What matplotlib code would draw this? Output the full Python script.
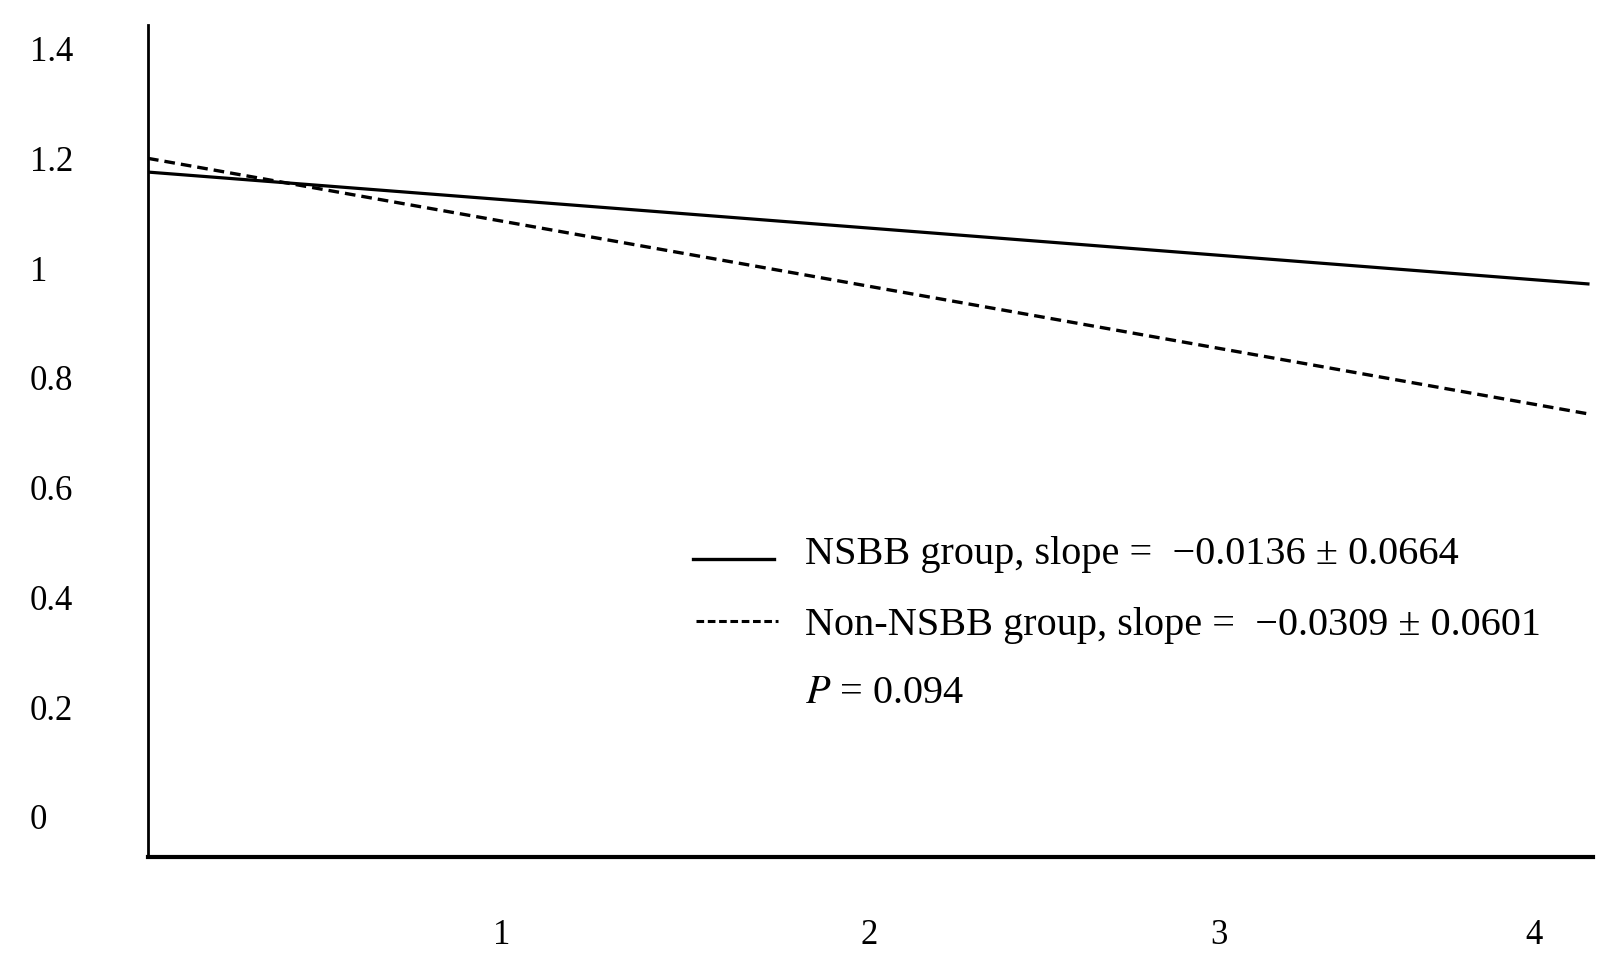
import matplotlib
matplotlib.use('Agg')
import matplotlib.pyplot as plt
from matplotlib.lines import Line2D

plt.rcParams['font.family'] = ['Liberation Serif', 'DejaVu Serif']
plt.rcParams['mathtext.fontset'] = 'stix'

# fitted lines, start and end of follow-up
x_ends = [0.0, 4.16]
nsbb = [1.175, 0.971]
non_nsbb = [1.200, 0.734]

y_ticks = [0, 0.2, 0.4, 0.6, 0.8, 1.0, 1.2, 1.4]
y_labels = ['0', '0.2', '0.4', '0.6', '0.8', '1', '1.2', '1.4']
x_ticks = [1.02, 2.08, 3.09, 4.0]
x_labels = ['1', '2', '3', '4']

legend_rows = ['NSBB group, slope =  \u22120.0136 \u00b1 0.0664',
               'Non-NSBB group, slope =  \u22120.0309 \u00b1 0.0601',
               '$P$ = 0.094']

W, H = 1622, 968
fig = plt.figure(figsize=(W / 100, H / 100), dpi=100)
ax = fig.add_axes([148 / W, 1 - 857 / H, (1593 - 148) / W, (857 - 25) / H])

ax.plot(x_ends, nsbb, color='black', lw=2.3, solid_capstyle='butt')
ax.plot(x_ends, non_nsbb, color='black', lw=2.4, linestyle=(0, (3.2, 1.8)))

ax.set_xlim(0, 4.17)
ax.set_ylim(-0.073, 1.443)

for s in ['top', 'right']:
    ax.spines[s].set_visible(False)
ax.spines['left'].set_linewidth(2.0)
ax.spines['bottom'].set_linewidth(3.0)

ax.set_yticks(y_ticks)
ax.set_yticklabels(y_labels, fontsize=25)
ax.tick_params(axis='y', length=0, pad=85)
for lab in ax.get_yticklabels():
    lab.set_ha('left')

ax.set_xticks(x_ticks)
ax.set_xticklabels(x_labels, fontsize=25)
ax.tick_params(axis='x', length=0, pad=45)

# legend drawn by hand
fig.add_artist(Line2D([693 / W, 774 / W], [1 - 559 / H, 1 - 559 / H],
                      color='black', lw=2.4))
fig.add_artist(Line2D([696 / W, 778 / W], [1 - 621 / H, 1 - 621 / H],
                      color='black', lw=2.2, linestyle=(0, (2.5, 1.2))))
for row, yb in zip(legend_rows, [564, 635, 703]):
    fig.text(805 / W, 1 - yb / H, row, fontsize=29, va='baseline', ha='left')

fig.savefig('out.png', dpi=100)
